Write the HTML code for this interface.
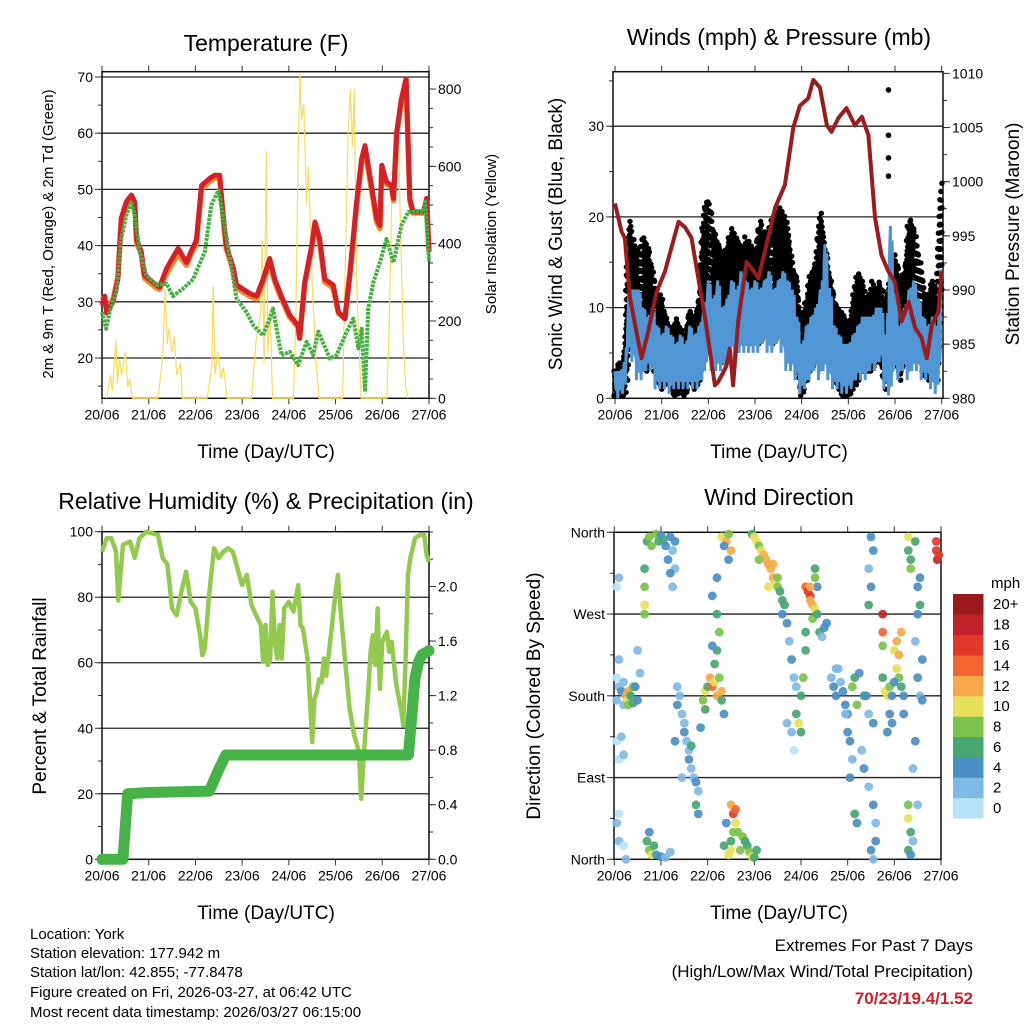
<!DOCTYPE html>
<html><head><meta charset="utf-8">
<style>
html,body{margin:0;padding:0;background:#fff;}
svg{display:block;font-family:"Liberation Sans",Arial,sans-serif;}
</style></head>
<body>
<svg id="chart" xmlns="http://www.w3.org/2000/svg" width="1024" height="1024" viewBox="0 0 1024 1024">
<rect x="0" y="0" width="1024" height="1024" fill="#fff"/>
<g id="layer"></g>
<text x="266" y="51" font-size="23" text-anchor="middle">Temperature (F)</text>
<text x="779" y="45" font-size="23" text-anchor="middle">Winds (mph) &amp; Pressure (mb)</text>
<text x="266" y="509" font-size="23" text-anchor="middle">Relative Humidity (%) &amp; Precipitation (in)</text>
<text x="779" y="505" font-size="23" text-anchor="middle">Wind Direction</text>
<text x="266" y="458" font-size="19" text-anchor="middle">Time (Day/UTC)</text>
<text x="779" y="458" font-size="19" text-anchor="middle">Time (Day/UTC)</text>
<text x="266" y="919" font-size="19" text-anchor="middle">Time (Day/UTC)</text>
<text x="779" y="919" font-size="19" text-anchor="middle">Time (Day/UTC)</text>
<text transform="translate(53,234) rotate(-90)" font-size="15" text-anchor="middle">2m &amp; 9m T (Red, Orange) &amp; 2m Td (Green)</text>
<text transform="translate(496,234) rotate(-90)" font-size="15" text-anchor="middle">Solar Insolation (Yellow)</text>
<text transform="translate(562,234) rotate(-90)" font-size="19" text-anchor="middle">Sonic Wind &amp; Gust (Blue, Black)</text>
<text transform="translate(1019,234) rotate(-90)" font-size="19" text-anchor="middle">Station Pressure (Maroon)</text>
<text transform="translate(46,696) rotate(-90)" font-size="19" text-anchor="middle">Percent &amp; Total Rainfall</text>
<text transform="translate(540,696) rotate(-90)" font-size="19" text-anchor="middle">Direction (Colored By Speed)</text>
<g font-size="15">
<text x="30" y="939">Location: York</text>
<text x="30" y="958">Station elevation: 177.942 m</text>
<text x="30" y="977">Station lat/lon: 42.855; -77.8478</text>
<text x="30" y="997">Figure created on Fri, 2026-03-27, at 06:42 UTC</text>
<text x="30" y="1017">Most recent data timestamp: 2026/03/27 06:15:00</text>
</g>
<text x="973" y="951" font-size="17" text-anchor="end">Extremes For Past 7 Days</text>
<text x="973" y="977" font-size="17" text-anchor="end">(High/Low/Max Wind/Total Precipitation)</text>
<text x="973" y="1004" font-size="17" font-weight="bold" fill="#cc2229" text-anchor="end">70/23/19.4/1.52</text>
<text x="991" y="588" font-size="15">mph</text>
</svg>
<script>
// ---------- DATA ----------
const dayLabels = ["20/06","21/06","22/06","23/06","24/06","25/06","26/06","27/06"];
// Temperature panel
const tempT = [0,0.06,0.1,0.24,0.34,0.41,0.52,0.63,0.7,0.74,0.84,0.91,1.16,1.23,1.38,1.63,1.81,1.91,2.02,2.13,2.31,2.41,2.52,2.56,2.66,2.81,2.88,3.16,3.31,3.45,3.59,3.7,3.84,4.02,4.2,4.23,4.34,4.49,4.56,4.66,4.77,4.95,5.06,5.2,5.31,5.45,5.56,5.63,5.7,5.88,5.95,5.99,6.09,6.2,6.24,6.31,6.41,6.51,6.59,6.66,6.88,6.95,7.0];
const tempRed = [29.4,31,28,30,34,44.8,47.8,49,47.8,41,39,34.7,33,32.6,35.9,39.5,37,39,41,50.7,52,52.5,52.5,48.4,40,36,33,31.5,31,34,37.7,34,31,27.6,25.8,23.5,33.5,40,44.2,41.2,34,33,28.2,27,35.3,47.8,55.5,57.8,54.3,44.8,43.6,54.3,51.3,50.7,48.4,60.2,66.1,69.7,48.4,46,46,48.4,38.9];
const tempOrange = [31,30,28.5,30.5,34.5,44,47,48.5,47.5,40.5,38.5,34.2,32.5,32.2,35,38.5,36.5,38.5,40.5,50,51.5,52,52,48,39.5,35.5,32.5,31,30.5,33.5,37,33.5,30.5,27.2,25.5,23.5,33,39.5,43.8,40.5,33.5,32.5,28,27,35,47,55,57.2,53.5,44.2,43,53.8,51,50.4,48,59.8,65.8,69.5,48,45.8,45.8,48,39];
const dewT = [0,0.09,0.16,0.31,0.41,0.52,0.63,0.7,0.81,0.95,1.16,1.38,1.52,1.74,1.95,2.2,2.34,2.49,2.59,2.74,2.88,3.09,3.24,3.45,3.59,3.66,3.84,4.02,4.2,4.38,4.52,4.63,4.88,5.02,5.24,5.38,5.49,5.56,5.63,5.7,5.81,5.95,6.09,6.24,6.41,6.56,6.88,6.92,7.0];
const dewVal = [28.2,25.2,28.2,31.8,41.2,45.4,47.8,45.4,39,34.7,33,33.2,31,32.4,34,38.9,47.2,49.8,45.4,37.7,30.6,28.2,25.8,24,27,28.8,20.5,21.1,18.7,22.9,20.5,24.7,19.9,20.5,24.7,27,21.7,25.2,14,28.8,33.5,37,41.2,37,43.6,46,46,47.8,37.1];
const solarT = [0.1,0.18,0.22,0.3,0.33,0.38,0.42,0.5,0.55,0.6,0.65,1.2,1.3,1.35,1.4,1.43,1.5,1.55,1.6,1.68,1.72,2.25,2.35,2.38,2.42,2.48,2.55,2.6,2.68,3.2,3.3,3.4,3.43,3.47,3.52,3.55,3.6,3.65,4.1,4.15,4.2,4.24,4.27,4.32,4.38,4.42,4.5,4.58,4.65,5.15,5.2,5.27,5.32,5.36,5.4,5.45,5.5,5.55,6.1,6.15,6.2,6.3,6.35,6.4,6.45,6.5,6.55];
const solarVal = [0,60,20,150,40,100,60,120,30,50,0,0,110,280,140,180,120,160,60,90,0,0,80,290,60,120,50,80,0,0,150,220,410,90,640,120,220,0,0,200,650,840,720,760,500,600,300,100,0,0,300,690,800,650,800,300,150,0,0,200,500,700,640,400,150,30,0];
// Wind panel (0.1 day steps)
const windHi = [3,3,4,12,12,12,10,9,10,8,7,8,7,6,7,6,8,7,8,10,13,11,13,10,11,13,12,14,13,12,13,12,13,14,12,13,14,13,12,9,6,8,9,10,12,17,12,8,7,6,6,7,8,9,9,9,10,10,7,19,11,8,10,12,13,11,9,8,9,8,17];
const windLo = [0,0,0.5,5,4,2,2,3,3,1,1,1,0.5,1,1,1,1,1,1,2,4,3,3,3,3,5,4,5,5,5,5,5,6,5,5,6,5,3,3,2,0.5,1,2,3,2,3,2,1,1,0.5,0.5,1,2,2,2,3,3,4,1,0.3,3,2,3,2,3,3,2,2,1,0.5,4];
const gustHi = [3,4,5,20,17,16,18,17,14,12,11,9,8,9,8,7,10,9,11,21,22,19,17,16,17,19,18,16,18,17,16,20,18,19,20,21,21,19,15,13,8,11,14,15,21,17,14,11,10,9,8,11,14,13,10,13,12,13,10,14,16,13,14,20,19,16,13,11,13,12,27];
const gustOutT = [5.86,5.86,5.86,5.86];
const gustOutV = [34,29,26.5,24.5];
const presT = [0,0.14,0.21,0.32,0.43,0.57,0.71,0.89,1.07,1.36,1.5,1.64,1.93,2.14,2.21,2.32,2.39,2.46,2.53,2.64,2.82,2.93,3.07,3.21,3.43,3.64,3.82,3.96,4.14,4.25,4.39,4.54,4.64,4.79,4.96,5.14,5.29,5.43,5.57,5.71,5.86,6.0,6.14,6.29,6.43,6.57,6.68,6.79,6.93,7.0];
const presVal = [998,995.4,994.8,989.3,986.8,983.7,986.1,989.8,991.7,996.3,995.8,994.8,987.4,981.2,981.5,982.4,983,984.6,981.2,987.1,992.6,992,991.1,993.5,997.6,999.7,1005,1007,1007.7,1009.4,1008.7,1005.2,1004.6,1005.9,1006.8,1005.2,1006,1004.3,996.7,993.2,991.7,990.7,987.1,988.9,986.5,985.6,983.7,986.8,988,991.7];
// RH panel
const rhT = [0,0.1,0.2,0.3,0.35,0.4,0.45,0.6,0.7,0.8,0.95,1.2,1.3,1.4,1.5,1.6,1.7,1.8,1.9,2.0,2.1,2.15,2.2,2.3,2.4,2.5,2.6,2.7,2.8,2.9,3.0,3.1,3.2,3.3,3.4,3.45,3.5,3.55,3.6,3.65,3.7,3.75,3.8,3.85,3.9,4.0,4.1,4.2,4.25,4.3,4.4,4.45,4.5,4.55,4.6,4.65,4.7,4.75,4.8,4.9,5.0,5.05,5.1,5.2,5.3,5.4,5.5,5.55,5.6,5.7,5.75,5.8,5.85,5.9,5.95,6.0,6.1,6.15,6.2,6.3,6.4,6.45,6.5,6.55,6.6,6.7,6.8,6.9,6.95,7.0];
const rhVal = [93.9,98,98,94,79,88,96,97,92,98,100,99,92,90,76.6,74.5,81.7,87.8,78.6,76.6,68.4,62.3,64.4,81.7,94.9,91.9,93.9,94.9,93.9,88.8,83.7,86.8,77.6,74.5,71.5,60.3,71.5,59.3,61.3,81.7,66.4,61.3,71.5,61.3,76.6,78.6,75.6,83.7,71.5,70.5,61.3,49,35.8,49,51,55,54,61.3,56,68.4,81.7,86.8,77.6,61.3,46,37.9,32.8,18.5,30.8,51,63.3,68.4,59.3,76.6,52,66.4,69.4,63.3,66.4,53.2,46,40.9,61.3,86.8,91.9,98,99,99,92.9,90.8];
const rainT = [0,0.45,0.5,0.55,1.0,2.3,2.4,2.5,2.65,6.56,6.62,6.7,6.78,6.85,7.0];
const rainVal = [0,0,0.25,0.48,0.49,0.50,0.58,0.66,0.765,0.765,1.0,1.33,1.45,1.5,1.53];
// Wind direction panel
const dirT = [0.05,0.05,0.1,0.1,0.15,0.2,0.2,0.25,0.28,0.3,0.3,0.35,0.4,0.4,0.45,0.5,0.55,0.5,0.05,0.1,0.05,0.15,0.1,0.2,0.05,0.1,0.1,0.2,0.25,
0.7,0.75,0.8,0.9,0.95,1.0,1.05,1.1,1.2,1.25,1.3,1.3,1.15,1.2,1.25,0.65,0.65,0.65,0.65,0.7,0.75,0.8,0.85,0.9,1.0,1.1,1.2,0.75,
1.35,1.35,1.4,1.45,1.5,1.5,1.55,1.6,1.6,1.65,1.7,1.75,1.8,1.75,1.8,1.65,1.85,1.45,1.3,
1.9,1.95,2.0,2.05,2.1,2.15,2.2,2.25,2.3,2.2,2.25,2.2,2.3,2.35,1.95,2.1,2.15,2.1,2.2,
2.3,2.4,2.45,2.35,2.5,2.45,
2.5,2.5,2.55,2.6,2.6,2.55,2.5,2.45,2.65,2.75,2.8,2.85,2.9,2.95,3.0,3.05,2.4,2.35,2.7,
2.95,3.0,3.05,3.1,3.15,3.2,3.25,3.3,3.35,3.4,3.45,3.5,3.55,3.6,3.65,3.3,3.4,3.1,3.5,3.6,
3.7,3.75,3.8,3.85,3.9,3.9,3.95,4.0,4.0,4.05,4.1,4.1,3.8,3.7,3.85,
4.1,4.15,4.2,4.2,4.25,4.3,4.25,4.3,4.3,4.35,4.4,4.45,4.5,4.35,4.55,4.2,
4.65,4.7,4.75,4.8,4.85,4.9,4.95,5.0,5.0,5.05,5.1,5.1,5.15,5.2,5.05,5.2,5.15,4.95,4.75,5.25,5.3,5.35,5.35,
5.5,5.55,5.45,5.5,5.45,5.4,5.45,5.55,5.55,5.6,5.6,5.55,5.5,5.45,5.75,5.75,5.75,5.75,5.8,5.85,5.9,5.9,5.95,5.95,5.85,
6.0,6.05,6.1,6.05,6.1,6.15,6.2,6.2,6.15,6.0,6.3,6.3,6.35,6.35,6.3,6.3,6.35,6.3,6.35,6.4,6.45,6.5,6.5,6.45,6.5,6.55,6.45,6.4,6.5,6.55,6.55,6.6,6.6,
6.9,6.9,6.92,6.95];
const dirVal = [175,200,220,190,185,195,170,180,175,185,170,180,172,190,190,175,205,230,300,310,130,135,110,115,40,50,20,15,0,
350,355,345,358,350,357,352,345,355,340,350,320,330,315,300,320,300,280,270,20,10,5,15,5,3,2,8,30,
190,170,180,160,150,140,130,120,110,100,90,85,75,60,50,125,145,90,130,
175,185,190,200,190,195,180,200,185,230,250,270,175,160,165,235,215,290,310,
355,350,358,345,340,330,
10,60,50,55,40,30,20,5,30,25,20,15,8,3,2,10,40,15,10,
358,355,350,345,340,335,330,325,320,310,305,300,295,285,280,300,325,330,310,270,
260,240,220,200,190,160,150,140,180,200,230,250,140,150,120,
300,295,290,285,280,275,265,310,320,270,250,245,255,300,260,300,
200,190,180,210,195,185,170,160,140,130,110,190,200,170,90,40,50,160,210,205,120,100,180,
355,340,320,300,280,180,160,150,60,40,20,0,10,80,270,250,235,200,185,180,190,160,180,150,140,
230,240,225,210,200,190,180,160,250,195,355,340,320,330,60,45,30,10,5,20,350,300,270,240,200,180,130,100,60,310,280,220,175,
350,340,330,335];
const dirSpd = [2,1,2,3,4,3,2,12,10,13,8,6,7,9,4,5,3,2,1,2,1,2,1,2,2,1,2,1,2,
7,8,9,8,6,5,6,4,4,3,4,3,4,4,3,7,8,10,8,6,8,10,7,5,4,3,2,5,
3,4,2,3,2,4,2,3,4,2,3,4,3,6,4,6,4,2,4,
8,10,6,12,15,10,12,8,13,6,8,6,6,4,6,4,7,4,4,
10,12,8,4,12,4,
10,12,16,14,10,8,6,10,8,8,7,7,8,10,6,6,4,6,8,
7,10,10,8,10,12,12,13,12,12,10,8,7,6,6,10,12,8,9,4,
4,3,4,2,3,6,10,6,7,8,7,6,2,3,1,
14,16,17,13,12,10,8,8,6,6,6,3,4,4,4,12,
3,4,4,3,3,4,4,4,4,4,3,8,6,8,4,4,6,2,2,4,3,4,6,
4,4,3,4,6,4,3,4,4,3,5,3,4,3,18,15,8,6,10,10,8,4,5,4,4,
10,12,12,10,8,6,4,4,13,5,10,7,8,6,8,10,7,6,4,3,6,4,4,3,4,3,4,3,2,5,6,4,4,
16,17,18,16];
const cbLabels = ["0","2","4","6","8","10","12","14","16","18","20+"];
const cbColors = ["#b8e2f7","#7fb9e6","#4a8ec6","#48a670","#7dc24b","#e6e05a","#f7a94a","#f26531","#e0382c","#c1222a","#9b1a1e"];

// ---------- HELPERS ----------
const NS = "http://www.w3.org/2000/svg";
const layer = document.getElementById("layer");
function mk(tag, attrs, parent) {
  const e = document.createElementNS(NS, tag);
  for (const k in attrs) e.setAttribute(k, attrs[k]);
  (parent || layer).appendChild(e);
  return e;
}
function grp(name) {
  const g = mk("g", {});
  
  
  return g;
}
function pathFrom(ts, vs, X, Y) {
  let d = "";
  for (let i = 0; i < ts.length; i++) d += (i ? "L" : "M") + X(ts[i]).toFixed(1) + "," + Y(vs[i]).toFixed(1);
  return d;
}
function interp(arr, t) {
  const i = Math.floor(t * 10), f = t * 10 - i;
  if (i >= arr.length - 1) return arr[arr.length - 1];
  return arr[i] * (1 - f) + arr[i + 1] * f;
}
function frame(name, x0, x1, y0, y1, X, ylTicks, Yl, ylMinor, yrTicks, Yr, yrMinor, gridTicks, Yg) {
  const g = grp(name + "-axes");
  gridTicks.forEach(v => {
    const l = mk("line", {x1: x0, x2: x1, y1: Yg(v), y2: Yg(v), stroke: "#222", "stroke-width": 1.3}, g);
    
    
  });
  dayLabels.forEach((lab, i) => {
    const x = X(i);
    const t1 = mk("line", {x1: x, x2: x, y1: y1, y2: y1 + 6, stroke: "#333", "stroke-width": 1}, g);
    
    
    const t2 = mk("line", {x1: x, x2: x, y1: y0, y2: y0 - 6, stroke: "#333", "stroke-width": 1}, g);
    
    
    const tx = mk("text", {x: x, y: y1 + 21, "font-size": 14, "text-anchor": "middle"}, g);
    tx.textContent = lab;
    
    
  });
  ylMinor.forEach(v => {
    const t = mk("line", {x1: x0 - 4, x2: x0, y1: Yl(v), y2: Yl(v), stroke: "#333"}, g);
    
    
  });
  ylTicks.forEach(tk => {
    const t = mk("line", {x1: x0 - 7, x2: x0, y1: Yl(tk[0]), y2: Yl(tk[0]), stroke: "#333"}, g);
    
    
    const tx = mk("text", {x: x0 - 9, y: Yl(tk[0]) + 5, "font-size": 14, "text-anchor": "end"}, g);
    tx.textContent = tk[1];
    
    
  });
  yrMinor.forEach(v => {
    const t = mk("line", {x1: x1, x2: x1 + 4, y1: Yr(v), y2: Yr(v), stroke: "#333"}, g);
    
    
  });
  yrTicks.forEach(tk => {
    const t = mk("line", {x1: x1, x2: x1 + 7, y1: Yr(tk[0]), y2: Yr(tk[0]), stroke: "#333"}, g);
    
    
    const tx = mk("text", {x: x1 + 9, y: Yr(tk[0]) + 5, "font-size": 14, "text-anchor": "start"}, g);
    tx.textContent = tk[1];
    
    
  });
  const r = mk("rect", {x: x0, y: y0, width: x1 - x0, height: y1 - y0, fill: "none", stroke: "#111", "stroke-width": 1.5}, g);
  
  
}
function range(a, b, s) { const r = []; for (let v = a; v <= b + 1e-9; v += s) r.push(+v.toFixed(4)); return r; }

// ---------- TEMPERATURE ----------
(function () {
  const x0 = 102, x1 = 429, y0 = 71.7, y1 = 398.3;
  const X = d => x0 + d * 46.71, Y = v => 358 - (v - 20) * 5.62, Yr = w => 398.3 - w * 0.3866;
  frame("temperature", x0, x1, y0, y1, X,
    [20,30,40,50,60,70].map(v => [v, String(v)]), Y, range(15, 70, 5),
    [0,200,400,600,800].map(v => [v, String(v)]), Yr, range(0, 800, 50),
    [20,30,40,50,60,70], Y);
  const s = mk("path", {d: pathFrom(solarT, solarVal, X, Yr), fill: "none", stroke: "#f7dc5c", "stroke-width": 1.2});
  
  
  const o = mk("path", {d: pathFrom(tempT, tempOrange, X, Y), fill: "none", stroke: "#f08a30", "stroke-width": 5.5, "stroke-linejoin": "round"});
  
  
  const r = mk("path", {d: pathFrom(tempT, tempRed, X, Y), fill: "none", stroke: "#d42026", "stroke-width": 5, "stroke-linejoin": "round"});
  
  
  const g = mk("path", {d: pathFrom(dewT, dewVal, X, Y), fill: "none", stroke: "#46b043", "stroke-width": 4, "stroke-dasharray": "3 1", "stroke-linejoin": "round"});
  
  
})();

// ---------- WINDS ----------
(function () {
  const x0 = 613, x1 = 943, y0 = 71.7, y1 = 398.3;
  const X = d => 615 + d * 46.67, Y = v => 398.3 - v * 9.07, P = p => 398.3 - (p - 980) * 10.83;
  frame("winds", x0, x1, y0, y1, X,
    [0,10,20,30].map(v => [v, String(v)]), Y, range(0, 35, 5),
    [980,985,990,995,1000,1005,1010].map(v => [v, String(v)]), P, range(980, 1010, 2.5),
    [10,20,30], Y);
  const gd = grp("gust-dots");
  for (let i = 0; i < 70; i++) {
    for (let k = 0; k < 6; k++) {
      const t = (i + k / 6) / 10;
      const gh = interp(gustHi, t), bh = interp(windHi, t);
      const start = Math.max(bh - 6, 0.3);
      for (let v = start + (k % 3) * 0.35; v <= gh; v += 0.9) {
        const c = mk("circle", {cx: (X(t) + ((k * 7 + Math.round(v)) % 3) - 1).toFixed(1), cy: Y(v).toFixed(1), r: 2.7, fill: "#000"}, gd);
        
        
      }
    }
  }
  gustOutT.forEach((t, i) => {
    const c = mk("circle", {cx: X(t), cy: Y(gustOutV[i]), r: 2.8, fill: "#000"}, gd);
    
    
  });
  const ts = windHi.map((_, i) => i / 10);
  let jt = [], jv = [];
  for (let i = 0; i < ts.length - 1; i++) {
    jt.push(ts[i]); jv.push(windHi[i]);
    jt.push(ts[i] + 0.02); jv.push(windLo[i] + 1);
    jt.push(ts[i] + 0.04); jv.push(windHi[i] * 0.8 + windHi[i + 1] * 0.2);
    jt.push(ts[i] + 0.06); jv.push(windLo[i + 1]);
    jt.push(ts[i] + 0.08); jv.push(windHi[i] * 0.2 + windHi[i + 1] * 0.8 - 1);
  }
  let band = pathFrom(ts, windHi.map((v, i) => v * 0.75 + windLo[i] * 0.25), X, Y);
  for (let i = ts.length - 1; i >= 0; i--) band += "L" + X(ts[i]).toFixed(1) + "," + Y(windLo[i] + 0.8).toFixed(1);
  const b = mk("path", {d: band + "Z", fill: "#5096d4", stroke: "none"});
  
  
  const j = mk("path", {d: pathFrom(jt, jv, X, Y), fill: "none", stroke: "#5096d4", "stroke-width": 3});
  
  
  const p = mk("path", {d: pathFrom(presT, presVal, X, P), fill: "none", stroke: "#9b1b1f", "stroke-width": 4, "stroke-linejoin": "round"});
  
  
})();

// ---------- RH ----------
(function () {
  const x0 = 102, x1 = 429, y0 = 531.7, y1 = 859.3;
  const X = d => x0 + d * 46.71, Y = v => 859.3 - v * 3.276, Yp = v => 859.3 - v * 136.4;
  frame("humidity", x0, x1, y0, y1, X,
    [0,20,40,60,80,100].map(v => [v, String(v)]), Y, range(0, 100, 10),
    [0,0.4,0.8,1.2,1.6,2.0].map(v => [v, v.toFixed(1)]), Yp, range(0, 2.4, 0.2),
    [20,40,60,80], Y);
  const r = mk("path", {d: pathFrom(rhT, rhVal, X, Y), fill: "none", stroke: "#93c94f", "stroke-width": 4.5, "stroke-linejoin": "round"});
  
  
  const p = mk("path", {d: pathFrom(rainT, rainVal, X, Yp), fill: "none", stroke: "#46b348", "stroke-width": 11, "stroke-linejoin": "round", "stroke-linecap": "round"});
  
  
})();

// ---------- WIND DIRECTION ----------
(function () {
  const x0 = 614, x1 = 941, y0 = 532.3, y1 = 859.3;
  const X = d => 614.3 + d * 46.67, Y = v => 859.3 - v * 0.9083;
  const names = ["North","East","South","West","North"];
  frame("direction", x0, x1, y0, y1, X,
    [0,90,180,270,360].map((v, i) => [v, names[i]]), Y, range(0, 360, 45),
    [], Y, [],
    [90,180,270], Y);
  const g = grp("direction-points");
  dirT.forEach((t, i) => {
    const idx = Math.min(10, Math.floor(dirSpd[i] / 2));
    const c = mk("circle", {cx: X(t).toFixed(1), cy: Y(dirVal[i]).toFixed(1), r: 4.4, fill: cbColors[idx], "fill-opacity": 0.92}, g);
    
    
  });
  const cb = grp("speed-colorbar");
  const h = (818.3 - 594) / 11;
  cbColors.forEach((col, i) => {
    const y = 818.3 - (i + 1) * h;
    const r = mk("rect", {x: 953, y: y.toFixed(1), width: 30.5, height: (h + 0.3).toFixed(1), fill: col}, cb);
    
    
    const tx = mk("text", {x: 993, y: (y + h / 2 + 5).toFixed(1), "font-size": 15}, cb);
    tx.textContent = cbLabels[i];
    
    
  });
})();
</script>
</body></html>
